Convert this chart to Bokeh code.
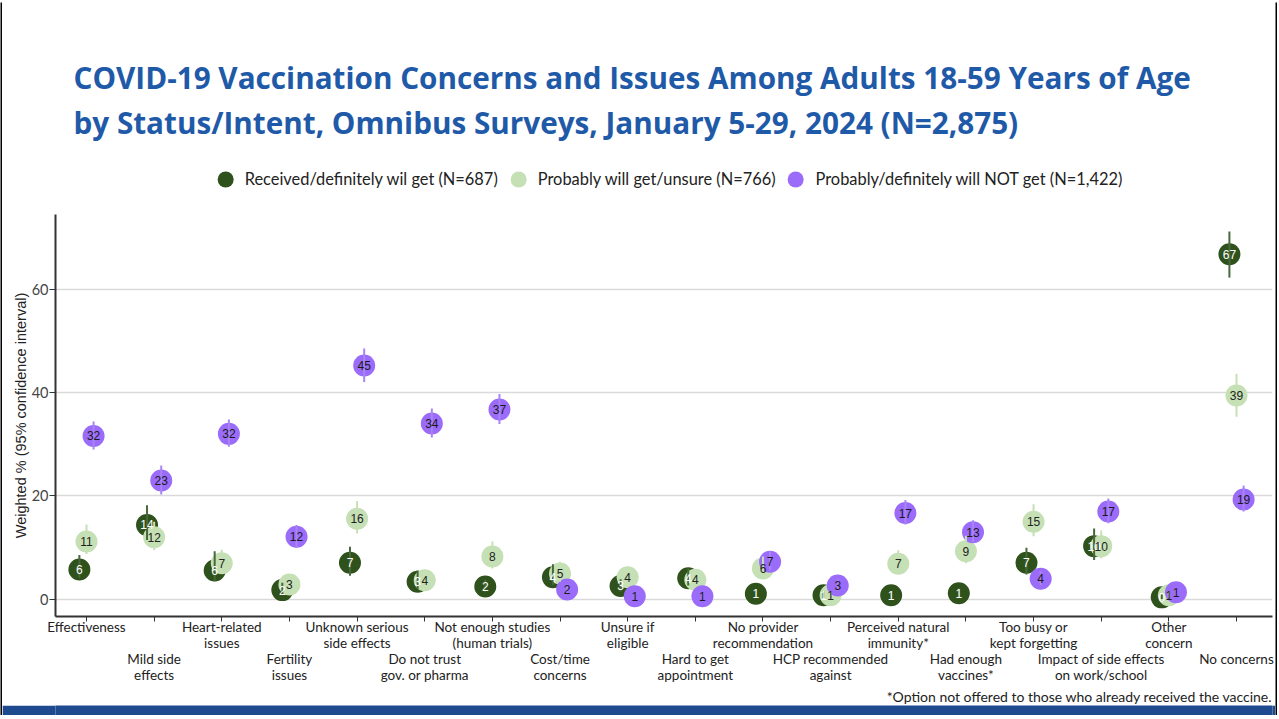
from bokeh.plotting import figure
from bokeh.layouts import column, row
from bokeh.models import (ColumnDataSource, Legend, LegendItem, LinearAxis,
                          FixedTicker, Range1d, Title)
from bokeh.core.properties import value
from bokeh.embed import file_html
from bokeh.resources import INLINE

# ---------------- data ----------------
categories = [
    "Effectiveness", "Mild side\neffects", "Heart-related\nissues", "Fertility\nissues",
    "Unknown serious\nside effects", "Do not trust\ngov. or pharma",
    "Not enough studies\n(human trials)", "Cost/time\nconcerns", "Unsure if\neligible",
    "Hard to get\nappointment", "No provider\nrecommendation", "HCP recommended\nagainst",
    "Perceived natural\nimmunity*", "Had enough\nvaccines*", "Too busy or\nkept forgetting",
    "Impact of side effects\non work/school", "Other\nconcern", "No concerns",
]
series_names = [
    "Received/definitely wil get (N=687)",
    "Probably will get/unsure (N=766)",
    "Probably/definitely will NOT get (N=1,422)",
]
received = [5.8, 14.4, 5.6, 1.8, 7.1, 3.4, 2.5, 4.3, 2.6, 4.1, 1.1, 0.8, 0.8, 1.2, 7.1, 10.3, 0.4, 66.7]
received_lo = [4.2, 11.5, 3.5, 1.0, 4.6, 2.0, 1.5, 2.8, 1.5, 2.7, 0.5, 0.3, 0.3, 0.6, 4.8, 7.6, 0.1, 62.2]
received_hi = [8.6, 18.2, 9.3, 3.2, 10.2, 5.6, 3.8, 6.8, 3.9, 6.0, 2.0, 1.6, 1.6, 2.2, 10.0, 13.7, 1.0, 71.1]
probably = [11.2, 12.0, 7.0, 2.9, 15.6, 3.7, 8.3, 5.0, 4.3, 3.8, 6.0, 0.8, 6.9, 9.3, 15.0, 10.3, 0.8, 39.4]
probably_lo = [8.8, 9.5, 4.9, 1.8, 12.8, 2.4, 6.0, 3.4, 2.8, 2.5, 4.2, 0.3, 5.0, 7.0, 12.2, 7.9, 0.3, 35.3]
probably_hi = [14.5, 15.0, 9.6, 4.6, 19.0, 5.5, 11.2, 7.3, 6.3, 5.6, 8.3, 1.6, 9.5, 12.3, 18.4, 13.3, 1.6, 43.6]
not_get = [31.6, 23.0, 32.0, 12.1, 45.2, 34.0, 36.7, 1.9, 0.6, 0.6, 7.3, 2.7, 16.7, 13.0, 4.0, 17.0, 1.4, 19.3]
not_get_lo = [29.0, 20.3, 29.5, 10.0, 42.0, 31.3, 33.9, 1.1, 0.2, 0.2, 5.6, 1.7, 14.5, 11.0, 2.8, 14.7, 0.8, 17.0]
not_get_hi = [34.4, 25.9, 34.8, 14.4, 48.5, 36.9, 39.7, 2.9, 1.3, 1.3, 9.3, 3.9, 19.2, 15.3, 5.5, 19.5, 2.3, 22.0]
y_ticks = [0, 20, 40, 60]

# ---------------- styles ----------------
fill_colors = ["#2F521C", "#C5E0B4", "#9B6BFA"]
bar_colors = ["#46683A", "#C5E0B4", "#A884F5"]
text_colors = ["#FFFFFF", "#222222", "#1A1A1A"]
offsets = [-0.105, 0.0, 0.105]
title_color = "#1F5AA8"
W = 1273
HEAD_H, MAIN_H, BAND_H, EDGE = 212, 490, 11, 2


def blank(width, height, color):
    f = figure(width=width, height=height, output_backend="svg", toolbar_location=None,
               x_axis_location=None, y_axis_location=None,
               min_border_left=0, min_border_right=0, min_border_top=0, min_border_bottom=0)
    f.title.visible = False
    f.outline_line_color = None
    f.xgrid.visible = False
    f.ygrid.visible = False
    f.background_fill_color = color
    f.border_fill_color = color
    return f


# ---------------- header (titles + legend) ----------------
head = figure(width=W, height=HEAD_H, output_backend="svg", toolbar_location=None,
              x_axis_location=None, y_axis_location=None,
              x_range=Range1d(0, 1), y_range=Range1d(0, 1),
              min_border_left=53, min_border_right=0, min_border_top=141, min_border_bottom=0)
head.title.visible = False
head.outline_line_color = None
head.xgrid.visible = False
head.ygrid.visible = False

# legend swatches: one off-screen point per series (only the legend shows them)
legend_renderers = [head.scatter([-5], [-5], size=10, fill_color=fc, line_color=None)
                    for fc in fill_colors]
legend = Legend(items=[LegendItem(label=n, renderers=[r]) for n, r in zip(series_names, legend_renderers)],
                orientation="horizontal", location="center",
                glyph_width=40, glyph_height=50, label_standoff=0, spacing=0,
                padding=0, margin=0, border_line_color=None, background_fill_alpha=0,
                label_text_font="Lato", label_text_font_size="16.4px", label_text_color="#222222")
head.add_layout(legend)

t2 = Title(text="by Status/Intent, Omnibus Surveys, January 5-29, 2024 (N=2,875)",
           align="left", offset=18, text_font="Open Sans", text_font_size="29.7px",
           text_font_style="bold", text_color=title_color, standoff=2)
head.add_layout(t2, "above")
t1 = Title(text="COVID-19 Vaccination Concerns and Issues Among Adults 18-59 Years of Age",
           align="left", offset=18, text_font="Open Sans", text_font_size="29.7px",
           text_font_style="bold", text_color=title_color, standoff=2)
head.add_layout(t1, "above")

# ---------------- main chart ----------------
p = figure(width=W, height=MAIN_H, output_backend="svg", toolbar_location=None,
           x_range=Range1d(0.542, 18.532), y_range=Range1d(-3.3, 74.4),
           min_border_left=0, min_border_right=3, min_border_top=0, min_border_bottom=0)
p.title.visible = False
p.outline_line_color = None

xs = list(range(1, len(categories) + 1))
all_vals = [(received, received_lo, received_hi),
            (probably, probably_lo, probably_hi),
            (not_get, not_get_lo, not_get_hi)]

sources = []
for (vals, lo, hi), off in zip(all_vals, offsets):
    sources.append(ColumnDataSource(dict(
        x=[xi + off for xi in xs], y=vals, lo=lo, hi=hi,
        lab=[str(int(round(v))) for v in vals])))

for src, fc in zip(sources, fill_colors):
    p.scatter("x", "y", source=src, size=22, fill_color=fc, line_color=None)
for src, bc in zip(sources, bar_colors):
    p.segment(x0="x", y0="lo", x1="x", y1="hi", source=src, line_color=bc, line_width=2)
for src, tc in zip(sources, text_colors):
    p.text("x", "y", text="lab", source=src, text_align="center", text_baseline="middle",
           text_color=tc, text_font=value("Liberation Sans"), text_font_size="12px")

p.xgrid.visible = False
p.ygrid.ticker = FixedTicker(ticks=y_ticks)
p.ygrid.grid_line_color = "#D9D9D9"
p.ygrid.grid_line_width = 1.5

yax = p.yaxis[0]
yax.ticker = FixedTicker(ticks=y_ticks)
yax.axis_line_width = 2
yax.axis_line_color = "#333333"
yax.major_tick_out = 6
yax.major_tick_in = 0
yax.major_tick_line_color = "#333333"
yax.minor_tick_line_color = None
yax.major_label_text_font = "Lato"
yax.major_label_text_font_size = "14.5px"
yax.major_label_text_color = "#444444"
yax.major_label_standoff = 1
yax.axis_label = "Weighted % (95% confidence interval)"
yax.axis_label_text_font = "Liberation Sans"
yax.axis_label_text_font_size = "14.5px"
yax.axis_label_text_font_style = "normal"
yax.axis_label_text_color = "#222222"
yax.axis_label_standoff = 0

top_row = {xi: (c if xi % 2 == 1 else "") for xi, c in zip(xs, categories)}
bottom_row = {xi: (c if xi % 2 == 0 else "") for xi, c in zip(xs, categories)}

xax = p.xaxis[0]
xax.ticker = FixedTicker(ticks=xs)
xax.major_label_overrides = top_row
xax.axis_line_width = 2
xax.axis_line_color = "#333333"
xax.major_tick_out = 5
xax.major_tick_in = 0
xax.major_tick_line_color = "#333333"
xax.minor_tick_line_color = None
xax.major_label_text_font = "Lato"
xax.major_label_text_font_size = "13.5px"
xax.major_label_text_line_height = 1.0
xax.major_label_text_color = "#222222"
xax.major_label_standoff = -3

xax2 = LinearAxis(ticker=FixedTicker(ticks=xs), major_label_overrides=bottom_row,
                  axis_line_color=None, major_tick_line_color=None, minor_tick_line_color=None,
                  major_tick_out=0, major_tick_in=0, major_label_standoff=-3,
                  major_label_text_font="Lato", major_label_text_font_size="13.5px",
                  major_label_text_line_height=1.0, major_label_text_color="#222222")
p.add_layout(xax2, "below")

foot = Title(text="*Option not offered to those who already received the vaccine.",
             align="right", text_font="Lato", text_font_size="14px",
             text_font_style="normal", text_color="#222222", standoff=0)
p.add_layout(foot, "below")

# ---------------- bottom band and slide frame ----------------
band = blank(W, BAND_H, "#1E4A90")
inner = column(head, p, band, spacing=0)
H = HEAD_H + MAIN_H + BAND_H
middle = row(blank(EDGE, H, "#000000"), inner, blank(EDGE, H, "#000000"), spacing=0)
layout = column(blank(W + 2 * EDGE, EDGE, "#000000"), middle,
                blank(W + 2 * EDGE, EDGE, "#000000"), spacing=0)

open("out.html", "w").write(file_html(layout, INLINE))
